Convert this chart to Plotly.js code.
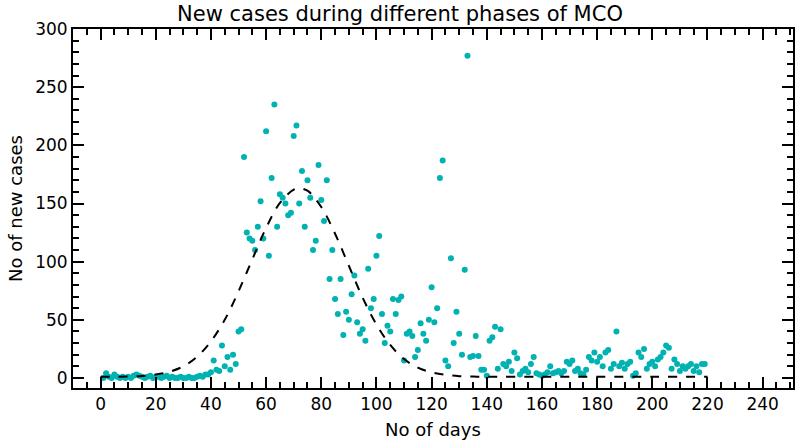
<html><head><script src="https://cdn.plot.ly/plotly-3.0.1.min.js"></script></head>
<body style="margin:0"><div id="chart" style="width:800px;height:445px"></div>
<script>
// daily new cases, day 1..219
const newCases = [
  0,4,1,0,3,1,0,1,0,1,0,2,3,2,1,0,1,2,0,1,
  1,0,1,2,0,1,0,0,1,0,0,1,0,0,1,2,1,3,3,5,
  15,7,6,28,10,18,7,20,12,40,42,190,125,120,118,110,130,152,120,212,
  105,172,235,130,158,155,150,140,142,208,217,150,178,130,170,155,110,118,183,153,
  135,170,85,110,68,55,85,37,57,50,72,88,48,38,42,32,94,60,68,105,
  122,55,30,45,40,68,55,67,70,15,38,40,36,18,24,47,38,32,50,78,
  48,60,172,187,15,10,103,30,57,38,20,93,277,18,19,36,19,7,7,2,
  32,35,44,8,42,12,10,14,6,22,17,3,6,8,5,12,18,4,3,2,
  3,5,10,4,5,6,4,6,14,12,15,6,8,4,3,7,18,15,22,14,
  18,10,22,24,8,12,40,10,13,8,12,14,2,4,22,18,25,8,12,14,
  10,16,18,22,28,26,8,16,12,6,10,8,10,12,6,10,5,12,12
];
const days = newCases.map((_, i) => i + 1);

const fitDays = [0,5,10,15,20,25,30,35,40,45,50,55,60,65,70,72,75,80,85,90,95,100,105,110,115,120,125,130,135,140,160,180,200,220];
const fitValues = [1,1.1,1.3,1.8,3,5.4,10,18.3,31.5,50,74.5,102,129,150.5,162,163,161,147,124,96.5,69,46,28.4,16.3,8.9,4.8,2.7,1.6,1.2,1,1,1,1,1];

const data = [
  {x: days, y: newCases, type: 'scatter', mode: 'markers',
   marker: {color: '#00b2b2', size: 6}},
  {x: fitDays, y: fitValues, type: 'scatter', mode: 'lines', line: {shape: 'spline', color: 'black', width: 2, dash: 'dash'}}
];

const axisStyle = {
  showgrid: false, zeroline: false, showline: true, mirror: 'allticks',
  linecolor: 'black', linewidth: 2, ticks: 'inside', ticklen: 11, tickwidth: 2,
  tickcolor: 'black', tickfont: {size: 17, color: 'black'}
};

const layout = {
  width: 800, height: 445,
  margin: {l: 73, r: 7, t: 29, b: 57},
  font: {family: 'DejaVu Sans', color: 'black'},
  title: {text: 'New cases during different phases of MCO', font: {size: 21}, x: 0.5, y: 0.985, yanchor: 'top'},
  showlegend: false,
  xaxis: Object.assign({}, axisStyle, {
    range: [-10, 251], dtick: 20, tick0: 0,
    minor: {dtick: 5, ticklen: 6, tickwidth: 1.5, tickcolor: 'black', ticks: 'inside'},
    title: {text: 'No of days', font: {size: 18}, standoff: 10}
  }),
  yaxis: Object.assign({}, axisStyle, {
    range: [-8.6, 300], dtick: 50, tick0: 0,
    minor: {dtick: 10, ticklen: 6, tickwidth: 1.5, tickcolor: 'black', ticks: 'inside'},
    title: {text: 'No of new cases', font: {size: 18}, standoff: 8}
  }),
  plot_bgcolor: 'white', paper_bgcolor: 'white'
};

Plotly.newPlot('chart', data, layout, {displayModeBar: false});
</script></body></html>
